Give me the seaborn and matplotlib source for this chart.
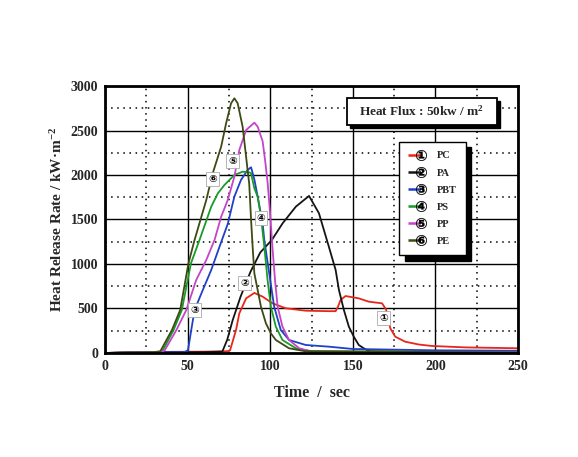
import numpy as np
import pandas as pd
import matplotlib
matplotlib.use("Agg")
import matplotlib.pyplot as plt
import seaborn as sns
from matplotlib.lines import Line2D
from matplotlib.patches import Rectangle
from matplotlib.textpath import TextPath
from matplotlib.font_manager import FontProperties
from matplotlib.path import Path
from matplotlib.ticker import MultipleLocator

# ---------------- data ----------------
materials = ["PC", "PA", "PBT", "PS", "PP", "PE"]
numbers = ["\u2460", "\u2461", "\u2462", "\u2463", "\u2464", "\u2465"]

PC_time = [0, 15, 60, 74, 75.7, 79.3, 81.3, 85.4, 90.4, 95.4, 101.4, 109.5, 121.5, 135.5, 139.6, 141, 142.6, 145.6, 153.6, 159.6, 167.7, 170.1, 172.7, 175.7, 181.7, 190, 197.8, 217.9, 250]
PC_hrr = [0, 10, 15, 20, 30, 258, 446, 614, 675, 633, 558, 502, 475, 470, 470, 520, 596, 640, 614, 577, 558, 490, 277, 183, 127, 95, 79, 63, 53]

PA_time = [0, 15, 60, 71, 74, 77.3, 82, 88, 94, 101, 107.5, 115.5, 123.5, 129.5, 135.5, 139.6, 141.6, 144.6, 147.6, 150.6, 153.6, 156.6, 160, 250]
PA_hrr = [0, 5, 10, 15, 150, 370, 630, 910, 1130, 1270, 1457, 1644, 1765, 1570, 1194, 933, 708, 483, 296, 183, 90, 53, 20, 5]

PBT_time = [0, 15, 48, 50.2, 52.2, 54.2, 59.2, 64.3, 69.3, 74.3, 78.3, 82.3, 86.3, 88.4, 90.4, 92.4, 95.4, 96.4, 99.4, 102.4, 106.4, 111.4, 121.5, 135.5, 150, 200, 250]
PBT_hrr = [0, 5, 10, 30, 258, 483, 708, 933, 1194, 1450, 1757, 1944, 2056, 2087, 1950, 1757, 1457, 1270, 895, 520, 258, 146, 90, 71, 45, 30, 25]

PS_time = [0, 15, 33, 35, 41.5, 46.5, 52, 57.2, 64.3, 68.3, 72.3, 78.3, 83.3, 87.3, 88.4, 90.4, 92.4, 94.4, 96.4, 98.4, 100.4, 103.4, 107.4, 115.5, 125, 250]
PS_hrr = [0, 5, 10, 30, 258, 483, 1007, 1270, 1644, 1794, 1888, 2000, 2037, 2030, 2019, 1850, 1757, 1531, 1200, 820, 520, 296, 146, 53, 20, 5]

PP_time = [0, 15, 34, 36.1, 43.2, 49.2, 55.2, 61.3, 66.3, 70.3, 74.3, 78.3, 81.3, 85.4, 90.4, 92.4, 95.4, 97, 98.5, 100, 101.5, 103, 104.5, 107.4, 111.4, 117.5, 125, 250]
PP_hrr = [0, 5, 10, 30, 258, 483, 820, 1045, 1270, 1531, 1719, 1981, 2281, 2505, 2588, 2543, 2380, 2150, 1900, 1550, 1150, 800, 520, 296, 146, 53, 15, 5]

PE_time = [0, 15, 30, 33.5, 40.5, 45.5, 50.5, 54.2, 61.3, 65.2, 70.3, 73.3, 76.3, 78.3, 80.3, 83.3, 85.4, 86.3, 87.3, 88.4, 89.4, 90.4, 92.4, 94.4, 97.4, 99.4, 100.4, 103.4, 111.4, 121, 250]
PE_hrr = [0, 5, 10, 20, 258, 483, 1007, 1270, 1719, 2019, 2318, 2581, 2806, 2862, 2806, 2543, 2206, 2056, 1900, 1500, 1180, 895, 708, 520, 333, 258, 221, 146, 53, 20, 5]

# circled-number annotation positions (time, hrr)
label_time = [168.7, 84.3, 54.2, 94.4, 77.3, 65.2]
label_hrr = [390, 783, 483, 1513, 2160, 1952]

colors = ["#e8261a", "#141414", "#2040c8", "#1a9a28", "#c445c8", "#3c4a14"]

series_t = [PC_time, PA_time, PBT_time, PS_time, PP_time, PE_time]
series_v = [PC_hrr, PA_hrr, PBT_hrr, PS_hrr, PP_hrr, PE_hrr]
frames = []
for name, t, v in zip(materials, series_t, series_v):
    frames.append(pd.DataFrame({"time": t, "hrr": v, "material": name}))
df = pd.concat(frames, ignore_index=True)

# ---------------- style ----------------
sns.set_theme(style="white")
plt.rcParams["font.family"] = ["Liberation Serif", "DejaVu Sans"]
plt.rcParams["font.weight"] = "bold"
plt.rcParams["mathtext.fontset"] = "custom"
plt.rcParams["mathtext.rm"] = "Liberation Serif:bold"
plt.rcParams["mathtext.bf"] = "Liberation Serif:bold"
plt.rcParams["mathtext.it"] = "Liberation Serif:bold"

fig = plt.figure(figsize=(5.78, 4.57), dpi=100)
fig.patch.set_facecolor("white")
ax = fig.add_axes([0.1817, 0.2276, 0.7145, 0.5842])

sns.lineplot(data=df, x="time", y="hrr", hue="material", hue_order=materials,
             palette=dict(zip(materials, colors)), estimator=None, sort=False,
             linewidth=1.3, legend=False, ax=ax)

ax.set_xlim(0, 250)
ax.set_ylim(0, 3000)
ax.xaxis.set_major_locator(MultipleLocator(50))
ax.xaxis.set_minor_locator(MultipleLocator(25))
ax.yaxis.set_major_locator(MultipleLocator(500))
ax.yaxis.set_minor_locator(MultipleLocator(250))
ax.grid(which="major", color="black", linewidth=1.0, linestyle="-")
ax.grid(which="minor", color="black", linewidth=1.1, linestyle=(0, (1, 3)))
ax.set_axisbelow(True)
ax.tick_params(which="both", length=0, labelsize=10, pad=5)
for lab in ax.get_xticklabels() + ax.get_yticklabels():
    lab.set_fontweight("bold")
for sp in ax.spines.values():
    sp.set_visible(True)
    sp.set_color("black")
    sp.set_linewidth(2.0)

ax.set_xlabel("Time  /  sec", fontsize=11.5, fontweight="bold", labelpad=9)
ax.set_ylabel("Heat Release Rate / kW\u00b7m$^{-2}$", fontsize=11, fontweight="bold", labelpad=4)

# circled numbers on curves
for num, lt, lv in zip(numbers, label_time, label_hrr):
    ax.text(lt, lv, num, fontsize=7.5, ha="center", va="center", color="black",
            family=["DejaVu Sans"], zorder=6,
            bbox=dict(boxstyle="square,pad=0.2", facecolor="white", edgecolor="#aaaaaa", linewidth=0.6))

# title box with shadow
ax.add_patch(Rectangle((0.593, 0.843), 0.363, 0.100, transform=ax.transAxes,
                       facecolor="black", edgecolor="black", zorder=7, clip_on=False))
ax.add_patch(Rectangle((0.585, 0.854), 0.363, 0.100, transform=ax.transAxes,
                       facecolor="white", edgecolor="black", linewidth=1.3, zorder=8, clip_on=False))
ax.text(0.766, 0.904, "Heat Flux : 50kw / m$^{2}$", transform=ax.transAxes,
        ha="center", va="center", fontsize=9.5, fontweight="bold", zorder=9)

# legend with "-①-" handles
def circled_marker(ch):
    tp = TextPath((0, 0), ch, size=10, prop=FontProperties(family="DejaVu Sans"))
    verts = tp.vertices.copy()
    ext = tp.get_extents()
    verts[:, 0] -= (ext.x0 + ext.x1) / 2
    verts[:, 1] -= (ext.y0 + ext.y1) / 2
    return Path(verts, tp.codes)

handles = []
for num, c, name in zip(numbers, colors, materials):
    handles.append(Line2D([], [], color=c, linestyle=(0, (5, 10)), linewidth=1.8,
                          marker=circled_marker(num), markersize=9,
                          markerfacecolor="black", markeredgecolor="black",
                          markeredgewidth=0.2, label=name))
leg = ax.legend(handles=handles, loc="upper left", bbox_to_anchor=(0.712, 0.791),
                borderaxespad=0, frameon=True, fancybox=False, numpoints=1,
                handlelength=2.5, handletextpad=0.2, labelspacing=0.75,
                borderpad=0.9, prop=FontProperties(family="Liberation Serif", weight="bold", size=7.5),
                shadow={"ox": 4, "oy": -4, "color": "black", "alpha": 1})
leg.get_frame().set_edgecolor("black")
leg.get_frame().set_linewidth(1.0)
leg.get_frame().set_facecolor("white")
leg.get_frame().set_alpha(1)
leg.set_zorder(10)

fig.savefig("out.png", dpi=100, facecolor="white")
